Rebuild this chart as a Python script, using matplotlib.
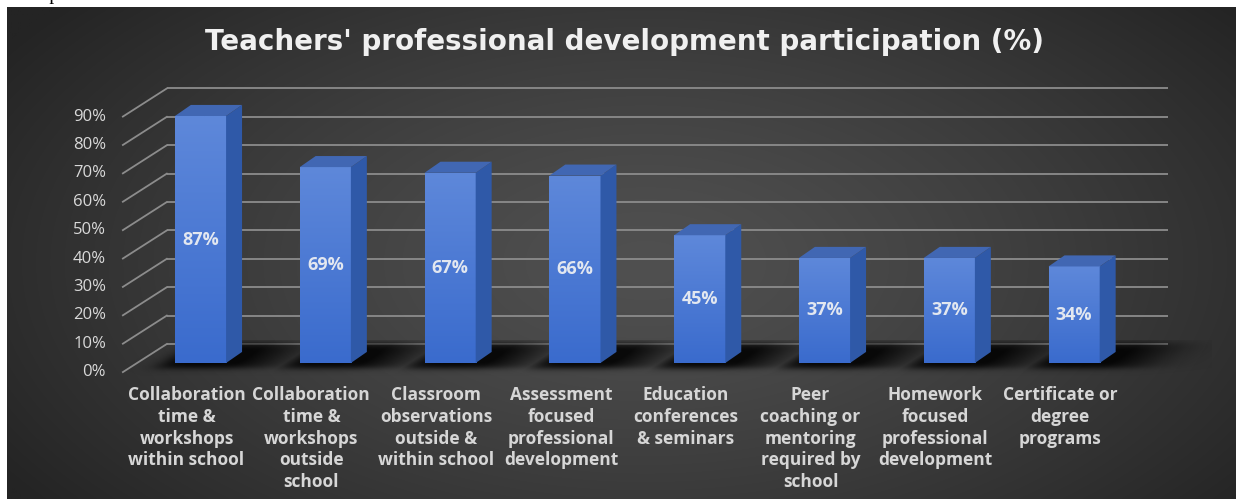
import numpy as np
import matplotlib
matplotlib.use("Agg")
import matplotlib.pyplot as plt
from matplotlib.patches import Polygon, Rectangle

# ---- data -------------------------------------------------------------
categories = [
    "Collaboration\ntime &\nworkshops\nwithin school",
    "Collaboration\ntime &\nworkshops\noutside\nschool",
    "Classroom\nobservations\noutside &\nwithin school",
    "Assessment\nfocused\nprofessional\ndevelopment",
    "Education\nconferences\n& seminars",
    "Peer\ncoaching or\nmentoring\nrequired by\nschool",
    "Homework\nfocused\nprofessional\ndevelopment",
    "Certificate or\ndegree\nprograms",
]
values = [87, 69, 67, 66, 45, 37, 37, 34]
ticks = [0, 10, 20, 30, 40, 50, 60, 70, 80, 90]
tick_labels = [f"{t}%" for t in ticks]
title = "Teachers' professional development participation (%)"

# ---- pseudo-3D geometry (data units: x = category, y = percent) ---------
HALF_W = 0.205            # half width of a bar's front face
BAR_DEPTH = (0.128, 3.9)  # front face -> back face of a bar
FLOOR_FRONT = (-0.112, -3.2)  # bar plane -> front edge of the floor
WALL_BACK = (0.240, 6.7)      # bar plane -> back wall
WALL_X = (-0.51, 7.51)        # extent of the floor / back wall

W, H = 1236, 499
fig = plt.figure(figsize=(W / 100, H / 100), dpi=100)
fig.patch.set_facecolor("white")

# heading of the surrounding document, mostly cut off
fig.text(20 / W, (H + 0.5) / H, "Graph 4.3:", fontsize=14, family="Liberation Serif",
         color="black", ha="left", va="baseline", zorder=0)

# dark radial-gradient chart area
bg = fig.add_axes([7 / W, 0, (W - 7) / W, (H - 7) / H], zorder=1)
ny, nx = 300, 700
yy, xx = np.mgrid[0:1:ny * 1j, 0:1:nx * 1j]
r = np.sqrt(((xx - 0.52) / 0.62) ** 2 + ((yy - 0.52) / 0.82) ** 2)
r = np.clip(r, 0, 1) ** 1.3
lum = (0x50 + (0x24 - 0x50) * r) / 255.0
bg.imshow(np.dstack([lum, lum, lum]), extent=(0, 1, 0, 1), aspect="auto",
          interpolation="bilinear")
bg.set_axis_off()

# main plotting axes
PX, PY = 124.8, 2.839
ax = fig.add_axes([(200.5 - PX) / W, 136 / H, 9 * PX / W, 100 * PY / H], zorder=2)
ax.patch.set_alpha(0)
ax.set_axis_off()

fx, fy = FLOOR_FRONT
bx, by = WALL_BACK
grid_col = "#8c8c8c"
for t, lab in zip(ticks, tick_labels):
    # back-wall gridline
    ax.plot([WALL_X[0] + bx, WALL_X[1] + bx], [t + by, t + by], color=grid_col,
            lw=1.3, solid_capstyle="butt", zorder=1, clip_on=False)
    # side-wall diagonal
    ax.plot([WALL_X[0] + fx, WALL_X[0] + bx], [t + fy, t + by], color=grid_col,
            lw=1.3, zorder=1, clip_on=False)
    ax.text(WALL_X[0] + fx - 0.135, t + fy, lab, ha="right", va="center",
            fontsize=12, family="Open Sans", color="#d9d9d9", zorder=5)

# soft floor shadows cast by the bars
sx0, sx1, sy0, sy1 = -0.9, 8.1, fy - 1.5, by + 1.0
gy, gx = np.mgrid[sy1:sy0:160j, sx0:sx1:1200j]
tt = (gy - fy) / (by - fy)
xf = gx - (fx + tt * (bx - fx))

def soft(u, k):
    return 1.0 / (1.0 + np.exp(-u / k))

alpha = np.zeros_like(gx)
for i, v in enumerate(values):
    a = i - HALF_W - 0.08
    b = i + HALF_W + 0.45
    box = soft(xf - a, 0.05) * soft(b - xf, 0.12) * soft(tt - 0.12, 0.06) * soft(0.98 - tt, 0.08)
    fade = np.exp(-np.clip(xf - (i + HALF_W + 0.1), 0, None) / 0.35)
    alpha = np.maximum(alpha, box * (0.5 + 0.45 * fade))
shadow = np.zeros(gx.shape + (4,))
shadow[..., 3] = np.clip(alpha, 0, 0.88)
ax.imshow(shadow, extent=(sx0, sx1, sy0, sy1), aspect="auto", zorder=2,
          interpolation="bilinear", clip_on=False)

# bars
top_rgb = np.array([0x5e, 0x88, 0xda]) / 255
bot_rgb = np.array([0x3a, 0x6b, 0xcd]) / 255
ramp = np.linspace(0, 1, 128)[:, None, None]
front_img = top_rgb * (1 - ramp) + bot_rgb * ramp
dx, dy = BAR_DEPTH
for i, v in enumerate(values):
    x0, x1 = i - HALF_W, i + HALF_W
    rect = Rectangle((x0, 0), 2 * HALF_W, v, facecolor="none", edgecolor="none",
                     zorder=3)
    ax.add_patch(rect)
    im = ax.imshow(front_img, extent=(x0, x1, 0, v), aspect="auto", zorder=3,
                   interpolation="bilinear")
    im.set_clip_path(rect)
    side = Polygon([(x1, 0), (x1 + dx, dy), (x1 + dx, v + dy), (x1, v)],
                   closed=True, facecolor="#2f59a8", edgecolor="none", zorder=3)
    top = Polygon([(x0, v), (x1, v), (x1 + dx, v + dy), (x0 + dx, v + dy)],
                  closed=True, facecolor="#4167b3", edgecolor="none", zorder=3)
    ax.add_patch(side)
    ax.add_patch(top)
    ax.text(i, v / 2, f"{v}%", ha="center", va="center", fontsize=13,
            fontweight="bold", family="Open Sans", color="#e2e7f0", zorder=6)

# category labels on the front edge of the floor
for i, lab in enumerate(categories):
    ax.text(i + fx, -8.0, lab, ha="center", va="top", fontsize=12.5,
            fontweight="bold", family="Open Sans", color="#d6d6d6",
            linespacing=1.28, zorder=5)

ax.set_xlim(-1, 8)
ax.set_ylim(0, 100)

fig.text(624.5 / W, (H - 50) / H, title, ha="center", va="baseline",
         fontsize=20, fontweight="bold", family="DejaVu Sans", color="#f0f0f0",
         zorder=3)

fig.savefig("out.png", dpi=100, facecolor=fig.get_facecolor())
